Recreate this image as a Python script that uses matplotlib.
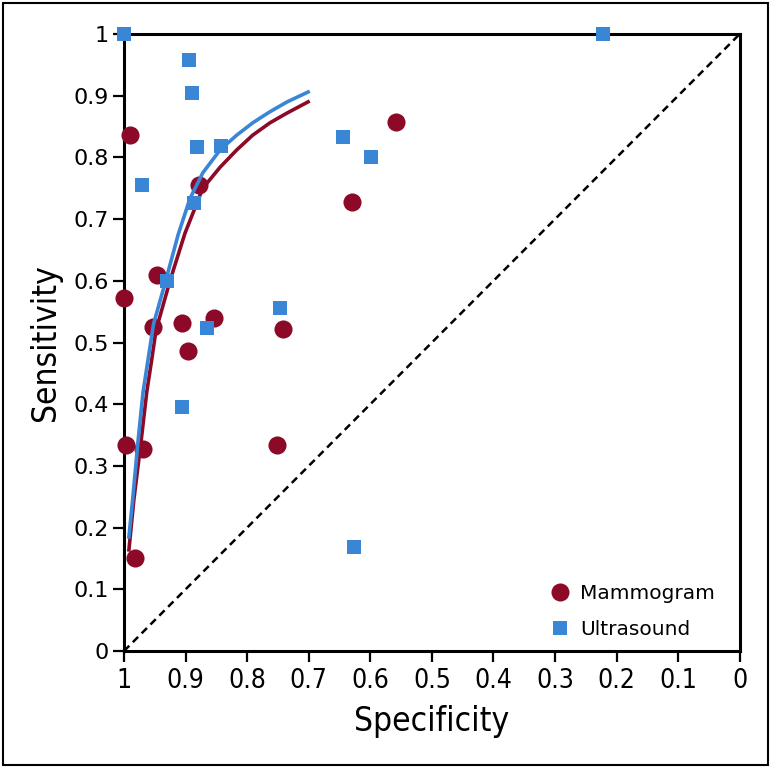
import matplotlib
matplotlib.use("Agg")
import matplotlib.pyplot as plt
from matplotlib import font_manager
from matplotlib.lines import Line2D
from matplotlib.patches import Rectangle

RED = "#8C0A28"
BLUE = "#3A86D6"

# study points (specificity, sensitivity)
mammo_spec = [0.990, 1.000, 0.946, 0.878, 0.558, 0.630, 0.953, 0.906, 0.854,
              0.896, 0.742, 0.997, 0.969, 0.752, 0.982]
mammo_sens = [0.836, 0.572, 0.609, 0.755, 0.857, 0.728, 0.525, 0.532, 0.540,
              0.486, 0.522, 0.334, 0.327, 0.334, 0.151]

us_spec = [1.000, 0.894, 0.889, 0.882, 0.843, 0.971, 0.886, 0.930, 0.644,
           0.599, 0.747, 0.865, 0.906, 0.627, 0.222]
us_sens = [1.000, 0.958, 0.904, 0.817, 0.818, 0.755, 0.726, 0.600, 0.833,
           0.801, 0.556, 0.523, 0.396, 0.168, 1.000]

# SROC curves
mammo_curve_spec = [0.992, 0.984, 0.972, 0.963, 0.955, 0.948, 0.925, 0.901,
                    0.872, 0.844, 0.817, 0.791, 0.763, 0.735, 0.701]
mammo_curve_sens = [0.164, 0.245, 0.342, 0.420, 0.472, 0.520, 0.601, 0.677,
                    0.750, 0.784, 0.812, 0.836, 0.856, 0.872, 0.890]
us_curve_spec = [0.992, 0.986, 0.977, 0.969, 0.961, 0.952, 0.932, 0.912,
                 0.893, 0.872, 0.844, 0.817, 0.791, 0.763, 0.735, 0.701]
us_curve_sens = [0.185, 0.245, 0.342, 0.420, 0.472, 0.530, 0.601, 0.675,
                 0.733, 0.775, 0.812, 0.836, 0.856, 0.874, 0.890, 0.906]

ticks = [1, 0.9, 0.8, 0.7, 0.6, 0.5, 0.4, 0.3, 0.2, 0.1, 0]
tick_labels = ["1", "0.9", "0.8", "0.7", "0.6", "0.5", "0.4", "0.3", "0.2", "0.1", "0"]


def narrow_font():
    fonts = font_manager.fontManager.ttflist
    names = {f.name for f in fonts}
    if "Liberation Sans Narrow" in names:
        return dict(family="Liberation Sans Narrow")
    for f in fonts:
        if f.name in ("DejaVu Sans", "Roboto") and f.stretch in ("condensed", "semi-condensed"):
            return dict(family=f.name, stretch=f.stretch)
    return dict(family="DejaVu Sans")


COND = narrow_font()

fig = plt.figure(figsize=(7.73, 7.69), dpi=100)
ax = fig.add_axes([0.1604, 0.1534, 0.7966, 0.8024])

ax.plot([1, 0], [0, 1], color="black", lw=1.8, ls=(0, (3, 2)), zorder=2)
ax.scatter(mammo_spec, mammo_sens, s=170, color=RED, marker="o",
           linewidths=0, zorder=3, clip_on=False)
ax.plot(mammo_curve_spec, mammo_curve_sens, color=RED, lw=2.6, zorder=4,
        solid_joinstyle="round")
ax.plot(us_curve_spec, us_curve_sens, color=BLUE, lw=2.6, zorder=4.5,
        solid_joinstyle="round")
ax.scatter(us_spec, us_sens, s=115, color=BLUE, marker="s",
           linewidths=0, zorder=5, clip_on=False)

ax.set_xlim(1, 0)
ax.set_ylim(0, 1)
ax.set_xticks(ticks)
ax.set_xticklabels(tick_labels, fontsize=19, **COND)
ax.set_yticks(ticks)
ax.set_yticklabels(tick_labels, fontsize=16, family="DejaVu Sans")
ax.tick_params(axis="both", direction="out", length=8, width=1.6, color="black")
ax.tick_params(axis="x", pad=4)
ax.tick_params(axis="y", pad=3)
for sp in ax.spines.values():
    sp.set_linewidth(2.2)
    sp.set_color("black")

ax.set_xlabel("Specificity", fontsize=24, labelpad=8, **COND)
ax.set_ylabel("Sensitivity", fontsize=24, labelpad=8, **COND)

handles = [
    Line2D([], [], ls="none", marker="o", color=RED, markersize=13, markeredgewidth=0),
    Line2D([], [], ls="none", marker="s", color=BLUE, markersize=10.5, markeredgewidth=0),
]
ax.legend(handles, ["Mammogram", "Ultrasound"], loc="lower right",
          bbox_to_anchor=(0.989, -0.01), frameon=False, handlelength=1.0,
          handletextpad=0.5, labelspacing=0.85, prop=dict(family="DejaVu Sans", size=14.5))

fig.patches.append(Rectangle((0.004, 0.005), 0.99, 0.991, transform=fig.transFigure,
                             fill=False, edgecolor="black", lw=1.5))

fig.savefig("out.png", dpi=100)
